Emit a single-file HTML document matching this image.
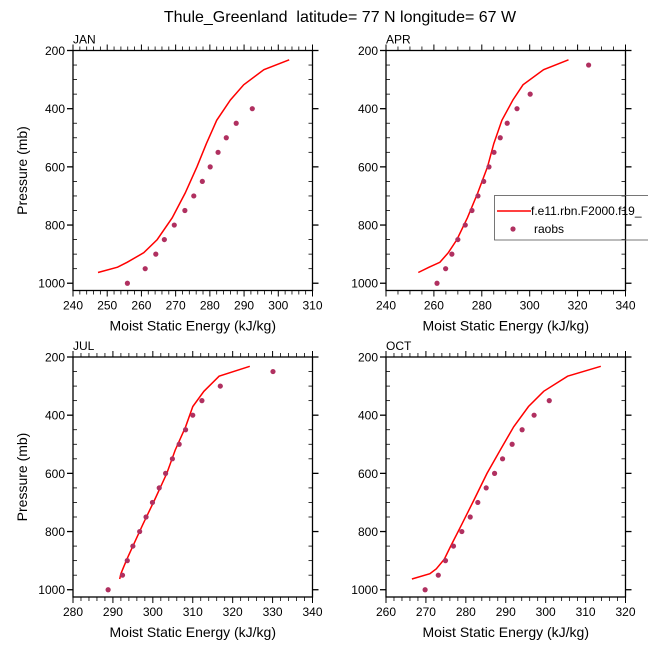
<!DOCTYPE html>
<html><head><meta charset="utf-8"><style>
body{margin:0;background:#fff}
svg{display:block;font-family:"Liberation Sans",sans-serif}
</style></head><body>
<svg id="c" width="648" height="649" viewBox="0 0 648 649" xmlns="http://www.w3.org/2000/svg">
<text x="340" y="22" text-anchor="middle" font-size="16">Thule_Greenland&#160; latitude= 77 N longitude= 67 W</text>
</svg>
<script>
const levels = [232,266,318,370,440,520,600,690,775,850,895,928,945,963];
const obsLevels = [1000,950,900,850,800,750,700,650,600,550,500,450,400,350,300,250];
const janModel = [303.2,295.8,289.9,286,282,279,276.2,272.8,269,264.6,260.7,255.8,253,247.3];
const aprModel = [316.2,305.8,297.2,293,288.4,285,282.4,278.3,274,269.6,266,262.5,258,253.5];
const julModel = [324.3,316.6,312.8,310,308.2,305.6,303.5,300.5,297.5,295,293.5,292.5,292,291.7];
const octModel = [313.8,305.5,299.5,295.7,292,288.6,285.3,282.1,279,276.2,274.6,272.6,271,266.5];
const janObs = [255.9,261.1,264.2,266.7,269.6,272.7,275.3,277.8,280.1,282.4,284.8,287.7,292.4,null,null,null];
const aprObs = [261.3,264.9,267.5,270,273.1,275.9,278.4,280.8,283,285.1,287.7,290.6,294.7,300.2,null,324.6];
const julObs = [288.8,292.4,293.6,295,296.7,298.3,299.9,301.6,303.2,304.9,306.6,308.2,310,312.3,316.9,330.1];
const octObs = [269.8,273.1,274.9,276.9,279,281.1,283,285.1,287.2,289.2,291.6,294.1,297.1,300.9,null,null];
const yTicks = [200,400,600,800,1000];
const panelNames = ["JAN","APR","JUL","OCT"];

const NS="http://www.w3.org/2000/svg";
const svg=document.getElementById('c');
function mk(tag,attrs,parent){const e=document.createElementNS(NS,tag);for(const k in attrs)e.setAttribute(k,attrs[k]);(parent||svg).appendChild(e);return e;}

const panels=[
 {name:"JAN",x0:73,y0:50.5,xmin:240,xmax:310,maj:10,min:2,model:janModel,obs:janObs,ylab:true},
 {name:"APR",x0:386,y0:50.5,xmin:240,xmax:340,maj:20,min:5,model:aprModel,obs:aprObs,ylab:false},
 {name:"JUL",x0:73,y0:357,xmin:280,xmax:340,maj:10,min:2,model:julModel,obs:julObs,ylab:true},
 {name:"OCT",x0:386,y0:357,xmin:260,xmax:320,maj:10,min:2,model:octModel,obs:octObs,ylab:false}
];
const W=239.5,H=240,PMIN=200,PMAX=1025;

panels.forEach((p,i)=>{
  const g=mk('g',{});
  
  
  const xs=v=>p.x0+(v-p.xmin)/(p.xmax-p.xmin)*W;
  const ys=v=>p.y0+(v-PMIN)/(PMAX-PMIN)*H;
  const fr=mk('rect',{x:p.x0,y:p.y0,width:W,height:H,fill:'none',stroke:'#000','stroke-width':1.3},g);
  
  
  for(let v=p.xmin;v<=p.xmax+1e-6;v+=p.min){
    const x=xs(v);const major=Math.abs((v-p.xmin)%p.maj)<1e-6;
    if(major){
      mk('line',{x1:x,x2:x,y1:p.y0+H,y2:p.y0+H+6,stroke:'#000','stroke-width':1},g);
      mk('line',{x1:x,x2:x,y1:p.y0,y2:p.y0-6,stroke:'#000','stroke-width':1},g);
      const t=mk('text',{x:x,y:p.y0+H+19,'text-anchor':'middle','font-size':12},g);t.textContent=v;
      
      
    }else{
      mk('line',{x1:x,x2:x,y1:p.y0+H,y2:p.y0+H+4,stroke:'#000','stroke-width':0.8},g);
      mk('line',{x1:x,x2:x,y1:p.y0,y2:p.y0-4,stroke:'#000','stroke-width':0.8},g);
    }
  }
  for(let v=200;v<=1000;v+=50){
    const y=ys(v);const major=v%200===0;
    if(major){
      mk('line',{x1:p.x0-6,x2:p.x0,y1:y,y2:y,stroke:'#000','stroke-width':1.3},g);
      mk('line',{x1:p.x0+W,x2:p.x0+W+6,y1:y,y2:y,stroke:'#000','stroke-width':1.3},g);
    }else{
      mk('line',{x1:p.x0,x2:p.x0+4,y1:y,y2:y,stroke:'#000','stroke-width':0.8},g);
      mk('line',{x1:p.x0+W-4,x2:p.x0+W,y1:y,y2:y,stroke:'#000','stroke-width':0.8},g);
    }
  }
  yTicks.forEach(v=>{
    const t=mk('text',{x:p.x0-8,y:ys(v)+4.5,'text-anchor':'end','font-size':12},g);t.textContent=v;
    
    
  });
  const lab=mk('text',{x:p.x0,y:p.y0-7,'font-size':12},g);lab.textContent=panelNames[i];
  
  
  const xt=mk('text',{x:p.x0+W/2,y:p.y0+H+40,'text-anchor':'middle','font-size':14},g);xt.textContent='Moist Static Energy (kJ/kg)';
  
  
  if(p.ylab){
    const cy=p.y0+H/2;
    const yt=mk('text',{x:27,y:cy,'text-anchor':'middle','font-size':14,transform:'rotate(-90 27 '+cy+')'},g);yt.textContent='Pressure (mb)';
    
    
  }
  const pts=p.model.map((v,k)=>xs(v).toFixed(1)+','+ys(levels[k]).toFixed(1)).join(' ');
  const pl=mk('polyline',{points:pts,fill:'none',stroke:'#ff0000','stroke-width':1.5},g);
  
  
  p.obs.forEach((v,k)=>{
    if(v===null)return;
    const c=mk('circle',{cx:xs(v),cy:ys(obsLevels[k]),r:2.6,fill:'#b03060'},g);
    
    
  });
});
const lg=mk('g',{});


mk('rect',{x:494.5,y:195.5,width:170,height:44.5,fill:'none',stroke:'#555','stroke-width':0.8},lg);
const l1=mk('line',{x1:497,x2:531,y1:211,y2:211,stroke:'#ff0000','stroke-width':1.5},lg);


const t1=mk('text',{x:531,y:215,'font-size':12},lg);t1.textContent='f.e11.rbn.F2000.f19_';


const c1=mk('circle',{cx:513,cy:229,r:2.6,fill:'#b03060'},lg);


const t2=mk('text',{x:534,y:233,'font-size':12},lg);t2.textContent='raobs';


</script>
</body></html>
